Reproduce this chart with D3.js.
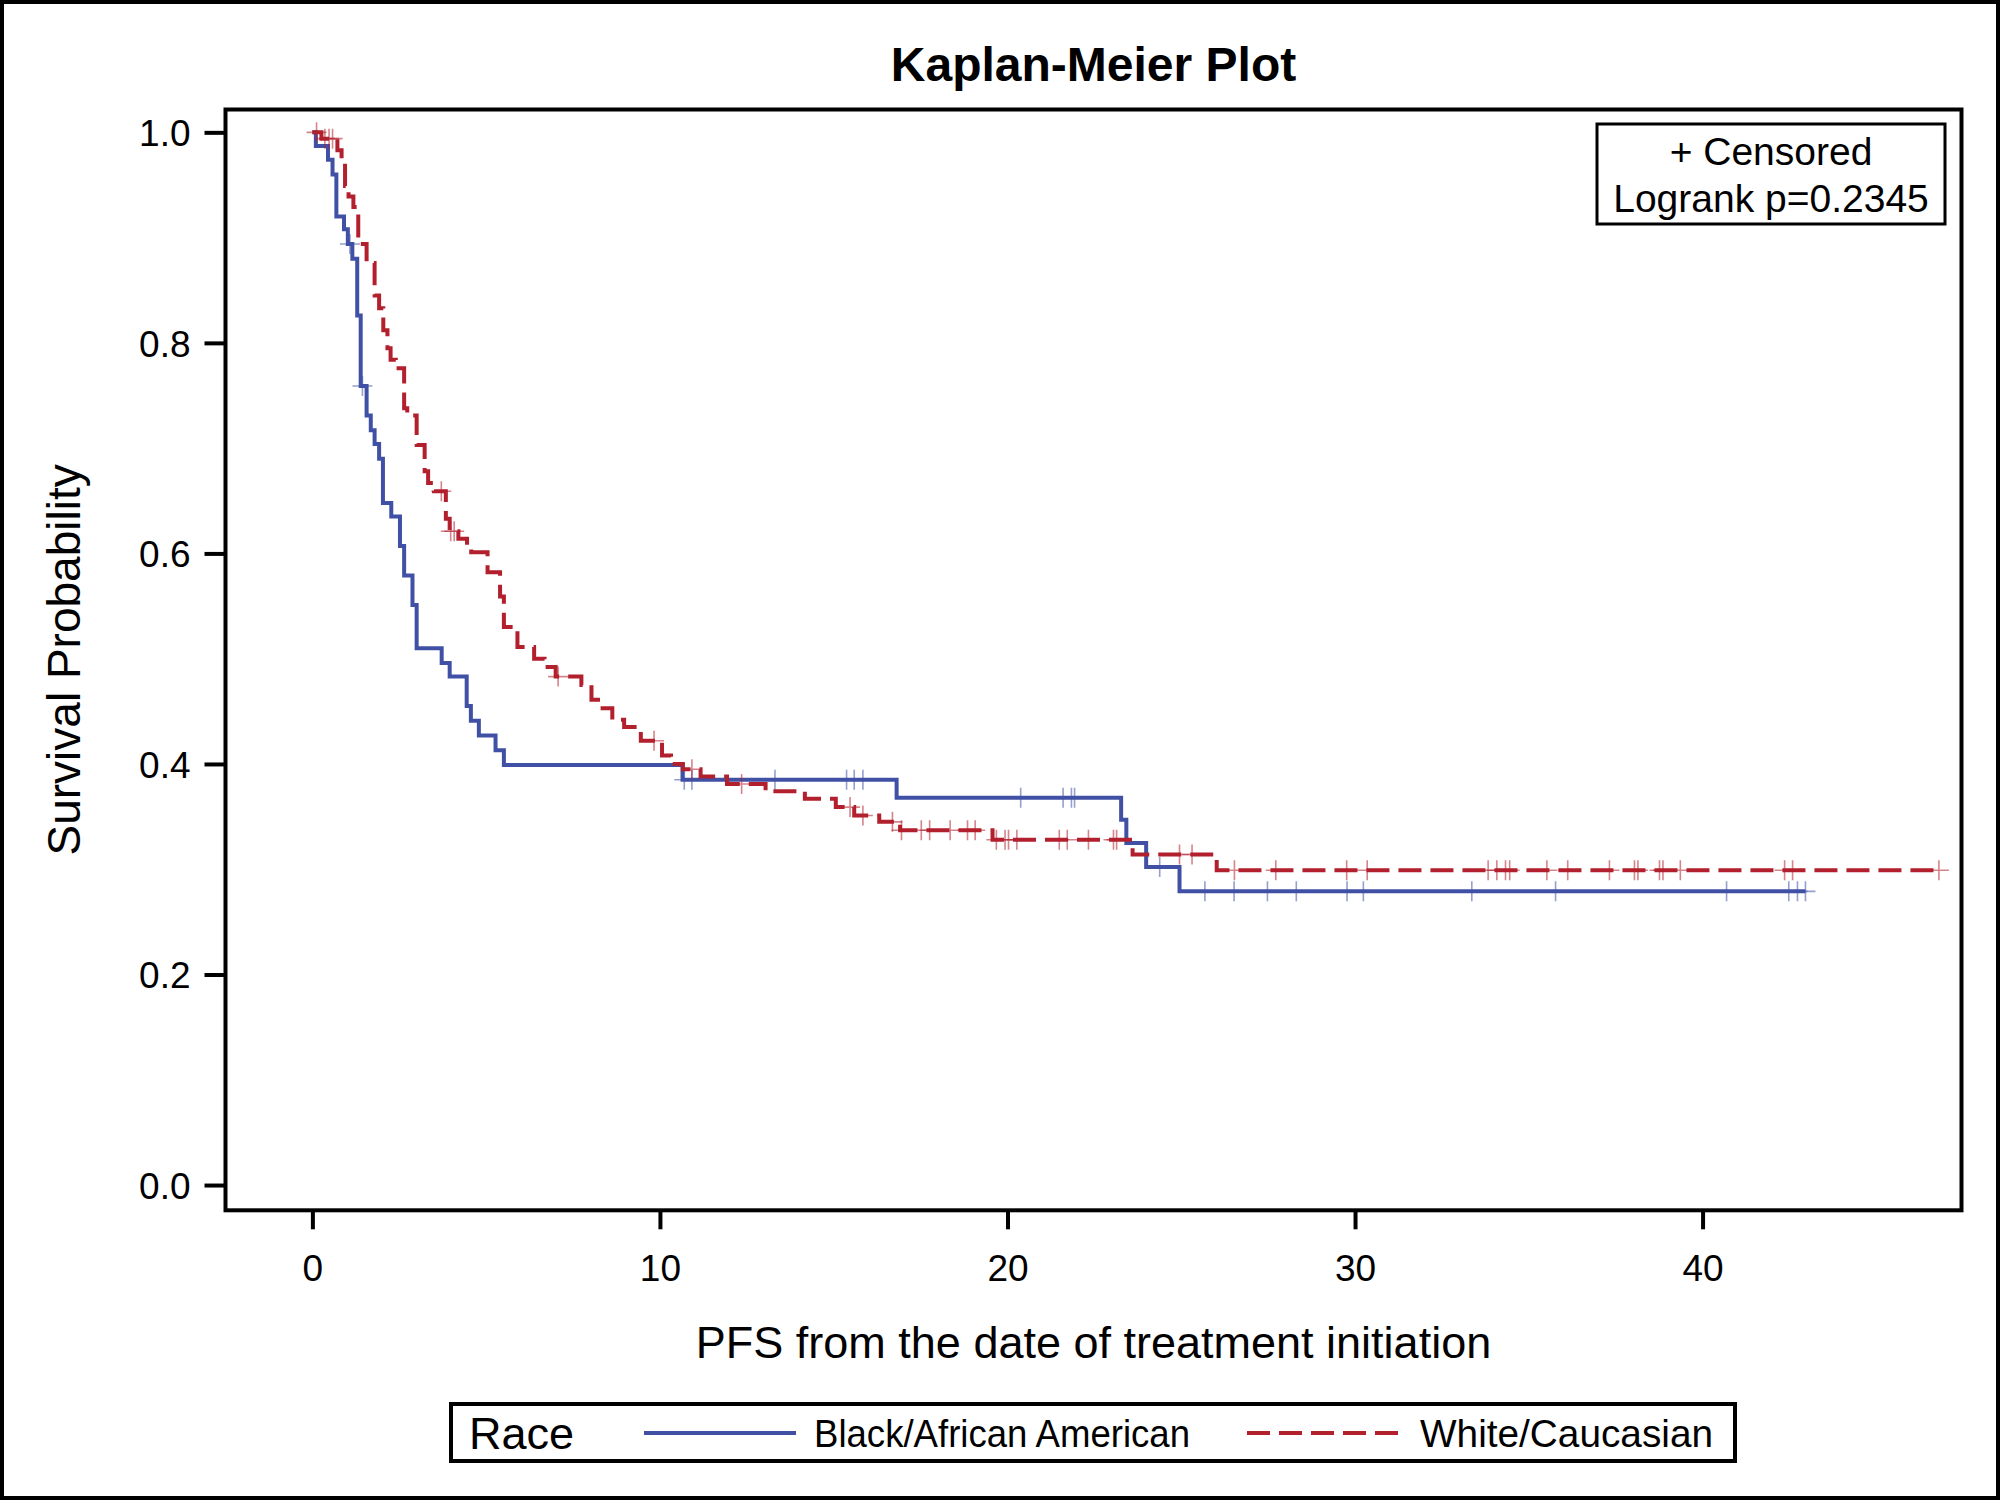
<!DOCTYPE html>
<meta charset="utf-8">
<style>
    body { margin:0; background:#fff; }
    svg text { font-family:'Liberation Sans', Arial, sans-serif; fill:#000; }
</style>
<body>
<script src="https://cdn.jsdelivr.net/npm/d3@7"></script>
<script>
// group names and the step data
var groups = ["Black/African American", "White/Caucasian"];

var blackTimes = [0, 0.1, 0.45, 0.58, 0.69, 0.91, 1.02, 1.15, 1.29, 1.39, 1.56, 1.68, 1.79, 1.92, 2.03,
    2.27, 2.52, 2.64, 2.88, 3.0, 3.72, 3.95, 4.44, 4.56, 4.79, 5.27, 5.51, 10.65, 16.81, 23.27, 23.42, 23.99, 24.95];
var blackSurv = [1.0, 0.987, 0.974, 0.960, 0.920, 0.908, 0.894, 0.880, 0.826, 0.759, 0.731, 0.717, 0.704, 0.690, 0.648,
    0.635, 0.607, 0.579, 0.551, 0.510, 0.496, 0.483, 0.455, 0.441, 0.427, 0.413, 0.399, 0.385, 0.368, 0.347, 0.325, 0.302, 0.279];
var blackCensor = [1.08, 1.44, 10.7, 10.92, 13.31, 15.37, 15.59, 15.84, 20.38, 21.6, 21.84, 21.93, 24.38,
    25.68, 26.52, 27.48, 28.31, 29.77, 30.24, 33.36, 35.77, 40.69, 42.48, 42.73, 42.96];

var whiteTimes = [0, 0.26, 0.72, 0.84, 0.94, 1.04, 1.18, 1.32, 1.56, 1.79, 1.92, 2.04, 2.16, 2.25, 2.4, 2.64,
    2.73, 3.0, 3.23, 3.33, 3.5, 3.84, 3.95, 4.2, 4.45, 4.57, 5.04, 5.4, 5.51, 5.9, 6.38, 6.68, 7.0, 7.74, 8.03,
    8.35, 8.63, 8.97, 9.35, 9.45, 10.06, 10.32, 10.66, 11.17, 11.93, 13.04, 14.17, 15.06, 15.59, 16.31, 16.91,
    19.57, 23.6, 26.02];
var whiteSurv = [1.0, 0.994, 0.983, 0.974, 0.949, 0.939, 0.929, 0.894, 0.876, 0.845, 0.833, 0.812, 0.795, 0.784, 0.776, 0.738,
    0.731, 0.703, 0.678, 0.667, 0.659, 0.633, 0.621, 0.614, 0.608, 0.601, 0.582, 0.559, 0.530, 0.511, 0.500, 0.492, 0.483, 0.475, 0.461,
    0.453, 0.442, 0.435, 0.432, 0.422, 0.408, 0.400, 0.395, 0.388, 0.381, 0.374, 0.367, 0.359, 0.351, 0.345, 0.337,
    0.328, 0.314, 0.299];
var whiteCensor = [0.12, 0.36, 0.48, 0.58, 3.71, 3.98, 4.08, 7.07, 9.83, 10.92, 12.35, 15.47, 15.84, 16.69, 16.95,
    17.52, 17.76, 18.35, 18.85, 19.07, 19.68, 19.93, 20.03, 20.27, 21.49, 21.72, 22.33, 23.05, 23.14, 24.95, 25.31,
    26.53, 27.72, 29.76, 30.35, 33.83, 34.08, 34.33, 34.45, 35.52, 36.12, 37.32, 38.04, 38.14, 38.76, 38.86, 39.36,
    42.36, 42.59, 46.8];

var xTicks = [0, 10, 20, 30, 40];
var yTicks = [0, 0.2, 0.4, 0.6, 0.8, 1.0];

var width = 2000, height = 1500;
var plotL = 225.5, plotR = 1961.5, plotT = 109.5, plotB = 1210.3;

var x = d3.scaleLinear().domain([-2.5, 47.45]).range([plotL, plotR]);
var y = d3.scaleLinear().domain([-0.024, 1.0217]).range([plotB, plotT]);

var colors = ["#4050A5", "#B21F2D"];

var svg = d3.select("body").append("svg")
    .attr("width", width)
    .attr("height", height);

svg.append("rect")
    .attr("x", 2).attr("y", 2)
    .attr("width", width - 4).attr("height", height - 4)
    .attr("fill", "#fff").attr("stroke", "#000").attr("stroke-width", 4);

svg.append("text")
    .attr("x", (plotL + plotR) / 2).attr("y", 81)
    .attr("text-anchor", "middle")
    .style("font-size", "48px").style("font-weight", "bold")
    .text("Kaplan-Meier Plot");

// axes
var xAxis = svg.append("g")
    .attr("transform", "translate(0," + plotB + ")")
    .call(d3.axisBottom(x).tickValues(xTicks).tickFormat(d3.format("d")).tickSize(19).tickSizeOuter(0));
var yAxis = svg.append("g")
    .attr("transform", "translate(" + plotL + ",0)")
    .call(d3.axisLeft(y).tickValues(yTicks).tickFormat(d3.format(".1f")).tickSize(21).tickSizeOuter(0));
[xAxis, yAxis].forEach(function(a) {
    a.select(".domain").remove();
    a.selectAll(".tick line").attr("stroke", "#000").attr("stroke-width", 4);
    a.selectAll(".tick text").style("font-size", "37px").attr("fill", "#000");
});
xAxis.selectAll(".tick text").attr("y", 71).attr("dy", 0);
yAxis.selectAll(".tick text").attr("x", -35).attr("dy", "0.36em");

svg.append("text")
    .attr("x", (plotL + plotR) / 2).attr("y", 1358)
    .attr("text-anchor", "middle")
    .style("font-size", "45px")
    .text("PFS from the date of treatment initiation");

svg.append("text")
    .attr("transform", "translate(80," + (plotT + plotB) / 2 + ") rotate(-90)")
    .attr("text-anchor", "middle")
    .style("font-size", "46px")
    .text("Survival Probability");

// curves
svg.append("clipPath").attr("id", "plot")
    .append("rect").attr("x", plotL).attr("y", plotT)
    .attr("width", plotR - plotL).attr("height", plotB - plotT);

var line = d3.line()
    .x(function(d) { return x(d[0]); })
    .y(function(d) { return y(d[1]); })
    .curve(d3.curveStepAfter);

function stepAt(times, surv, t) {
    var i = d3.bisectRight(times, t) - 1;
    return surv[Math.max(0, i)];
}

var series = [
    {times: blackTimes, surv: blackSurv, censor: blackCensor, dash: null},
    {times: whiteTimes, surv: whiteSurv, censor: whiteCensor, dash: "23,9"}
];

var plot = svg.append("g").attr("clip-path", "url(#plot)");

series.forEach(function(s, k) {
    var pts = s.times.map(function(t, i) { return [t, s.surv[i]]; });
    var end = d3.max(s.censor);
    pts.push([end, stepAt(s.times, s.surv, end)]);

    var g = plot.append("g");
    g.selectAll(".cens")
        .data(s.censor)
        .enter().append("path")
        .attr("class", "cens")
        .attr("transform", function(t) {
            return "translate(" + x(t) + "," + y(stepAt(s.times, s.surv, t)) + ")";
        })
        .attr("d", "M-10,0H10M0,-10V10")
        .attr("stroke", colors[k]).attr("stroke-opacity", 0.55)
        .attr("stroke-width", 1.6);

    g.append("path")
        .datum(pts)
        .attr("d", line)
        .attr("fill", "none")
        .attr("stroke", colors[k])
        .attr("stroke-width", 4)
        .attr("stroke-dasharray", s.dash);
});

svg.append("rect")
    .attr("x", plotL).attr("y", plotT)
    .attr("width", plotR - plotL).attr("height", plotB - plotT)
    .attr("fill", "none").attr("stroke", "#000").attr("stroke-width", 4);

// inset
svg.append("rect")
    .attr("x", 1597).attr("y", 124)
    .attr("width", 348).attr("height", 100)
    .attr("fill", "#fff").attr("stroke", "#000").attr("stroke-width", 3);
svg.append("text").attr("x", 1771).attr("y", 165).attr("text-anchor", "middle")
    .style("font-size", "39px").text("+ Censored");
svg.append("text").attr("x", 1771).attr("y", 212).attr("text-anchor", "middle")
    .style("font-size", "39px").text("Logrank p=0.2345");

// legend
var leg = svg.append("g");
leg.append("rect")
    .attr("x", 451).attr("y", 1404)
    .attr("width", 1284).attr("height", 57)
    .attr("fill", "#fff").attr("stroke", "#000").attr("stroke-width", 4);
leg.append("text").attr("x", 469).attr("y", 1449).style("font-size", "45px").text("Race");

var legX = [644, 1247];
var legTextX = [814, 1420];
var legTextW = [376, 293];
groups.forEach(function(name, k) {
    leg.append("line")
        .attr("x1", legX[k]).attr("x2", legX[k] + 152)
        .attr("y1", 1433).attr("y2", 1433)
        .attr("stroke", colors[k]).attr("stroke-width", 4)
        .attr("stroke-dasharray", series[k].dash);
    leg.append("text")
        .attr("x", legTextX[k]).attr("y", 1447)
        .attr("textLength", legTextW[k]).attr("lengthAdjust", "spacingAndGlyphs")
        .style("font-size", "39px")
        .text(name);
});
</script>
</body>
